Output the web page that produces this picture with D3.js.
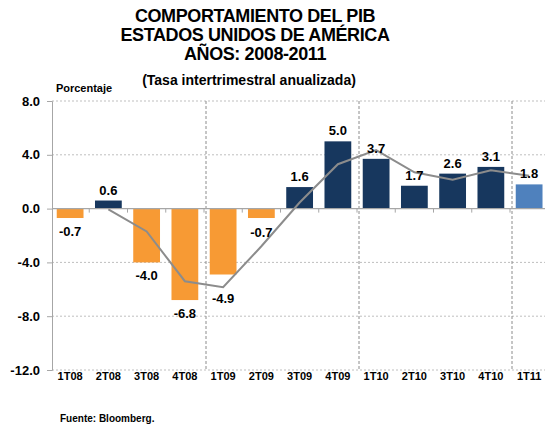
<!DOCTYPE html>
<html>
<head>
<meta charset="utf-8">
<script src="https://cdn.jsdelivr.net/npm/d3@7"></script>
<style>
  body { margin: 0; background: #fff; }
  text { font-family: "Liberation Sans", Arial, sans-serif; font-weight: bold; fill: #000; }
</style>
</head>
<body>
<script>
// quarters and values
var quarters = ["1T08","2T08","3T08","4T08","1T09","2T09","3T09","4T09","1T10","2T10","3T10","4T10","1T11"];
var pib = [-0.7, 0.6, -4.0, -6.8, -4.9, -0.7, 1.6, 5.0, 3.7, 1.7, 2.6, 3.1, 1.8];
// grey trend line (starts at second quarter)
var trend = [null, -0.05, -1.7, -5.4, -5.85, -2.8, 0.45, 3.3, 4.35, 2.7, 2.15, 2.85, 2.45];
var yTicks = [-12, -8, -4, 0, 4, 8];
var yearStarts = [4, 8, 12];
var labelNudge = [0, 0, 0, 0, 10, 1, 0, 0, 0, 0, 0, 0, 0];

var W = 545, H = 425;
var left = 51, step = 38.25;

var svg = d3.select("body").append("svg").attr("width", W).attr("height", H);

var x = d3.scaleBand().domain(quarters)
  .range([left, left + step * quarters.length])
  .paddingInner(0.3).paddingOuter(0.15);
var y = d3.scaleLinear().domain([-12, 8]).range([370, 101]);
var fmt = function(d){ return d.toFixed(1); };
var edge = function(i){ return x.range()[0] + i * x.step(); };

// titles
var titles = ["COMPORTAMIENTO DEL PIB", "ESTADOS UNIDOS DE AMÉRICA", "AÑOS: 2008-2011"];
svg.selectAll("text.title").data(titles).enter().append("text")
  .attr("class", "title")
  .attr("x", 255).attr("y", function(d,i){ return 22 + i*19; })
  .attr("text-anchor", "middle").style("font-size", "18px").style("letter-spacing", "-0.4px")
  .text(function(d){ return d; });
svg.append("text").attr("x", 249).attr("y", 85).attr("text-anchor", "middle")
  .style("font-size", "14px").text("(Tasa intertrimestral anualizada)");
svg.append("text").attr("x", 84).attr("y", 92).attr("text-anchor", "middle")
  .style("font-size", "11px").text("Porcentaje");

// horizontal grid
svg.append("g").selectAll("line").data(yTicks.filter(function(d){ return d != 0; })).enter().append("line")
  .attr("x1", left + 1).attr("x2", W).attr("y1", function(d){ return y(d); }).attr("y2", function(d){ return y(d); })
  .attr("stroke", "#bfbfbf").attr("stroke-dasharray", "2,2");

// year separators
svg.append("g").selectAll("line").data(yearStarts).enter().append("line")
  .attr("x1", function(d){ return edge(d) + 2; }).attr("x2", function(d){ return edge(d) + 2; })
  .attr("y1", y(8)).attr("y2", y(-12))
  .attr("stroke", "#8c8c8c").attr("stroke-dasharray", "3,2");

// y axis
var yAxis = svg.append("g").attr("transform", "translate(" + (left + 1) + ",0)")
  .call(d3.axisLeft(y).tickValues(yTicks).tickFormat(fmt).tickSize(5).tickPadding(7));
yAxis.selectAll("path,line").attr("stroke", "#a6a6a6");
yAxis.selectAll("text").style("font-size", "13px").style("font-family", "'Liberation Sans', Arial, sans-serif").style("font-weight", "bold");

// bars
var barColor = function(d, i){
  if (i == pib.length - 1) return "#4f81bd";
  return d < 0 ? "#f79a34" : "#17375e";
};
svg.append("g").selectAll("rect").data(pib).enter().append("rect")
  .attr("x", function(d,i){ return x(quarters[i]); })
  .attr("width", x.bandwidth())
  .attr("y", function(d){ return y(Math.max(0, d)); })
  .attr("height", function(d){ return Math.abs(y(d) - y(0)); })
  .attr("fill", barColor);

// zero line with ticks
svg.append("line").attr("x1", left + 1).attr("x2", W).attr("y1", y(0)).attr("y2", y(0))
  .attr("stroke", "#a6a6a6").attr("stroke-width", 1.2);
svg.append("g").selectAll("line").data(d3.range(1, quarters.length + 1)).enter().append("line")
  .attr("x1", function(d){ return edge(d); }).attr("x2", function(d){ return edge(d); })
  .attr("y1", y(0)).attr("y2", y(0) + 4).attr("stroke", "#a6a6a6");

// trend line
var line = d3.line()
  .defined(function(d){ return d != null; })
  .x(function(d,i){ return x(quarters[i]) + x.bandwidth()/2; })
  .y(function(d){ return y(d); });
svg.append("path").datum(trend).attr("d", line)
  .attr("fill", "none").attr("stroke", "#8c8c8c").attr("stroke-width", 2);

// value labels
svg.append("g").selectAll("text").data(pib).enter().append("text")
  .attr("x", function(d,i){ return x(quarters[i]) + x.bandwidth()/2; })
  .attr("y", function(d,i){ return d >= 0 ? y(d) - 6 : y(d) + 18 + labelNudge[i]; })
  .attr("text-anchor", "middle").style("font-size", "13px")
  .text(fmt);

// category labels
var xAxis = svg.append("g").attr("transform", "translate(0," + y(-12) + ")")
  .call(d3.axisBottom(x).tickSize(0).tickPadding(2));
xAxis.select(".domain").remove();
xAxis.selectAll("text").style("font-size", "11px").style("font-family", "'Liberation Sans', Arial, sans-serif").style("font-weight", "bold");

svg.append("text").attr("x", 60).attr("y", 422).style("font-size", "10px").text("Fuente: Bloomberg.");
</script>
</body>
</html>
